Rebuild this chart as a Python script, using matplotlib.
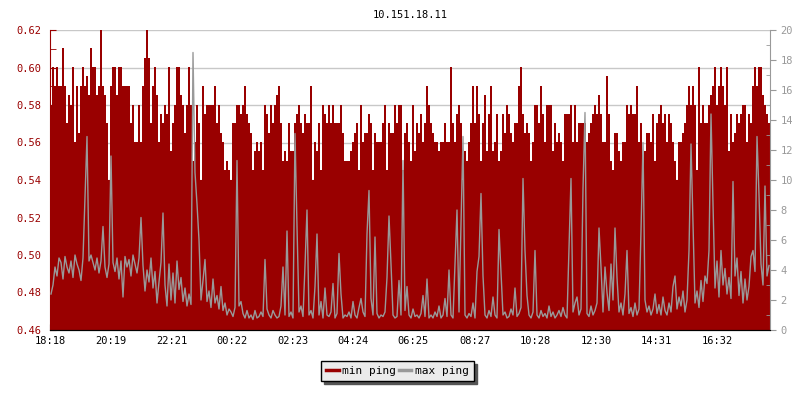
import matplotlib
matplotlib.use('Agg')
import matplotlib.pyplot as plt
import numpy as np

title = '10.151.18.11'
start_time = '18:18'
step_minutes = 4
tick_labels = ['18:18', '20:19', '22:21', '00:22', '02:23', '04:24',
               '06:25', '08:27', '10:28', '12:30', '14:31', '16:32']

# min ping in ms (left axis), one value per 4 minutes
min_ping = np.array([
    580, 600, 590, 600, 590, 590, 610, 590, 570, 585, 580, 600, 560, 590, 565, 590, 600, 590, 595, 585,
    610, 600, 600, 585, 590, 620, 590, 585, 570, 540, 590, 600, 600, 585, 600, 600, 590, 590, 590, 590,
    570, 580, 560, 560, 580, 560, 590, 605, 620, 605, 570, 590, 600, 585, 560, 575, 570, 580, 575, 600,
    555, 570, 580, 600, 600, 585, 580, 565, 580, 600, 580, 550, 560, 580, 570, 540, 590, 575, 580, 580,
    580, 580, 590, 570, 580, 565, 560, 545, 550, 545, 540, 570, 570, 580, 580, 575, 580, 590, 575, 570,
    565, 545, 555, 560, 555, 560, 545, 580, 575, 565, 580, 570, 580, 585, 590, 570, 550, 555, 550, 570,
    555, 555, 570, 575, 580, 570, 565, 575, 570, 570, 590, 540, 560, 555, 570, 545, 580, 575, 570, 580,
    570, 580, 570, 570, 570, 580, 565, 550, 550, 550, 555, 560, 565, 570, 545, 580, 560, 565, 565, 575,
    570, 545, 565, 560, 560, 560, 570, 580, 545, 570, 565, 565, 580, 570, 580, 580, 545, 565, 570, 560,
    550, 580, 555, 570, 565, 575, 560, 570, 590, 580, 570, 565, 560, 560, 555, 560, 560, 570, 560, 560,
    600, 570, 560, 575, 580, 570, 540, 555, 550, 560, 570, 590, 570, 590, 575, 550, 570, 585, 555, 575,
    590, 555, 560, 575, 550, 555, 575, 565, 580, 575, 565, 560, 570, 570, 590, 600, 575, 565, 570, 565,
    550, 560, 580, 580, 570, 590, 575, 560, 580, 580, 580, 555, 570, 560, 565, 560, 550, 575, 575, 575,
    580, 560, 580, 560, 570, 570, 570, 570, 560, 565, 570, 575, 580, 575, 585, 575, 560, 560, 595, 575,
    550, 545, 565, 565, 555, 550, 560, 560, 580, 575, 580, 575, 575, 590, 560, 570, 540, 555, 565, 565,
    560, 575, 550, 570, 575, 580, 570, 575, 560, 575, 570, 560, 550, 540, 560, 560, 565, 570, 580, 590,
    580, 590, 580, 545, 600, 570, 580, 570, 570, 580, 585, 590, 600, 580, 590, 600, 590, 580, 600, 555,
    575, 560, 565, 575, 570, 575, 580, 580, 560, 575, 570, 590, 600, 590, 600, 600, 585, 580, 575, 570,
]) / 1000.0

# max ping in ms (right axis), one value per 4 minutes
max_ping = np.array([
    2.4, 3.0, 4.2, 3.6, 4.8, 4.5, 3.4, 4.9, 4.2, 3.8, 4.6, 3.5, 5.0, 4.4, 4.0, 3.3, 4.8, 8.9, 12.9, 4.6,
    5.0, 4.5, 4.0, 4.8, 3.8, 4.6, 6.9, 4.2, 3.5, 4.4, 11.6, 4.5, 3.9, 4.8, 3.4, 4.6, 2.2, 4.9, 4.2, 4.7,
    3.6, 5.0, 4.4, 3.8, 4.8, 7.5, 4.3, 2.6, 4.0, 3.2, 4.8, 2.8, 3.9, 1.8, 3.2, 4.5, 7.8, 3.0, 1.6, 4.4,
    2.0, 3.8, 1.8, 4.6, 2.7, 3.5, 1.9, 2.8, 1.6, 2.4, 1.7, 18.5, 10.5, 8.4, 6.0, 2.0, 3.3, 4.7, 1.9, 2.6,
    1.5, 3.4, 1.8, 2.3, 1.4, 2.9, 1.3, 1.8, 1.0, 1.4, 1.2, 0.9, 1.5, 11.3, 1.6, 1.9, 1.1, 0.8, 1.3, 0.8,
    1.0, 0.7, 1.3, 0.8, 0.9, 1.2, 0.9, 4.7, 1.4, 1.0, 0.8, 1.3, 1.0, 0.8, 0.9, 1.6, 4.2, 1.0, 6.6, 0.9,
    1.2, 0.8, 13.1, 6.9, 1.2, 1.6, 0.9, 4.3, 8.0, 1.0, 1.3, 0.8, 2.9, 6.4, 1.0, 1.9, 0.8, 2.8, 1.0, 0.9,
    1.2, 3.1, 0.8, 1.1, 5.1, 2.4, 0.8, 1.0, 0.9, 1.2, 0.8, 1.9, 1.0, 0.8, 1.5, 2.1, 1.2, 0.9, 6.4, 9.3,
    2.1, 1.0, 6.2, 1.1, 0.8, 1.0, 0.9, 1.2, 3.5, 7.6, 4.4, 1.0, 0.8, 0.9, 3.3, 1.0, 11.3, 1.3, 2.9, 1.0,
    0.8, 1.4, 0.9, 1.0, 0.8, 1.1, 2.3, 0.9, 3.4, 0.8, 1.0, 0.8, 1.2, 0.9, 1.6, 0.8, 1.0, 2.1, 0.9, 4.0,
    1.0, 0.8, 4.4, 8.0, 1.2, 7.2, 12.9, 1.0, 0.8, 1.1, 0.9, 1.8, 0.8, 3.9, 4.9, 9.1, 3.6, 1.0, 0.8, 1.3,
    0.9, 2.2, 1.0, 0.8, 6.7, 3.9, 1.0, 1.2, 0.8, 0.9, 1.4, 1.0, 2.8, 0.9, 1.1, 1.5, 10.1, 5.3, 2.3, 1.0,
    0.8, 1.2, 5.3, 1.0, 0.8, 1.3, 0.9, 1.1, 0.8, 1.6, 0.9, 1.2, 0.8, 1.0, 1.3, 0.9, 1.5, 1.0, 0.8, 5.4,
    10.1, 1.2, 1.8, 2.2, 1.0, 1.4, 9.4, 14.5, 1.1, 0.9, 1.6, 1.0, 1.3, 1.8, 6.8, 4.2, 1.2, 4.2, 2.5, 1.3,
    4.4, 2.0, 6.8, 3.5, 1.2, 1.8, 1.0, 2.4, 5.3, 1.1, 1.5, 0.9, 1.8, 1.0, 1.4, 6.6, 12.5, 2.0, 1.2, 1.6,
    1.0, 1.4, 2.4, 1.1, 1.7, 1.0, 2.2, 1.3, 1.0, 1.8, 1.2, 2.9, 3.6, 1.4, 2.2, 1.6, 2.6, 1.2, 2.0, 5.3,
    12.4, 7.1, 1.8, 2.6, 1.5, 3.3, 1.9, 3.6, 3.1, 5.3, 14.4, 8.4, 2.8, 4.6, 2.2, 5.3, 3.0, 4.1, 2.4, 3.5,
    2.1, 9.9, 3.6, 4.8, 2.3, 3.9, 1.8, 3.4, 2.0, 2.9, 4.9, 5.3, 3.9, 12.9, 9.0, 4.4, 3.0, 9.6, 3.6, 4.3,
])

red = '#990000'
grey = '#999999'
plt.rcParams['font.family'] = 'DejaVu Sans Mono'
plt.rcParams['font.size'] = 7.5


def to_minutes(label):
    h, m = label.split(':')
    sh, sm = start_time.split(':')
    return (int(h) * 60 + int(m) - int(sh) * 60 - int(sm)) % 1440


# sample edges in minutes from the start
edges = np.arange(len(min_ping) + 1) * step_minutes
centers = edges[:-1] + step_minutes / 2

fig = plt.figure(figsize=(8, 4), dpi=100)
ax = fig.add_axes([0.0625, 0.175, 0.9, 0.75])
ax2 = ax.twinx()

ax.fill_between(edges, np.append(min_ping, min_ping[-1]), 0, step='post',
                color=red, linewidth=0, antialiased=False, label='min ping')
ax.set_ylim(0.46, 0.62)
ax.set_xlim(0, edges[-1])
ax.set_yticks(np.arange(0.46, 0.621, 0.02))
ax.set_yticks(np.arange(0.46, 0.621, 0.01), minor=True)
ax.set_yticklabels(['%.2f' % v for v in np.arange(0.46, 0.621, 0.02)])
ax.yaxis.grid(True, color='#c8c8c8', linewidth=1)
ax.set_axisbelow(True)
ax.tick_params(axis='y', which='both', direction='in', colors=red, labelcolor=red, length=4)
ax.tick_params(axis='y', which='major', pad=6)

ax.set_xticks([to_minutes(t) for t in tick_labels])
ax.set_xticklabels(tick_labels)
ax.tick_params(axis='x', direction='in', length=4, color='black', pad=4)

ax2.plot(centers, max_ping, color=grey, linewidth=1, label='max ping')
ax2.set_ylim(0, 20)
ax2.set_yticks(np.arange(0, 21, 2))
ax2.set_yticks(np.arange(0, 21, 1), minor=True)
ax2.tick_params(axis='y', which='major', direction='out', colors=grey, labelcolor=grey, length=4)
ax2.tick_params(axis='y', which='minor', direction='in', colors=grey, length=3)

for a in (ax, ax2):
    a.spines['top'].set_visible(False)
ax.spines['left'].set_color(red)
ax.spines['right'].set_visible(False)
ax2.spines['left'].set_visible(False)
ax2.spines['right'].set_color(grey)
ax2.spines['bottom'].set_color('black')

ax.set_title(title, fontsize=7.5, pad=9)

h1, l1 = ax.get_legend_handles_labels()
h2, l2 = ax2.get_legend_handles_labels()
handles = [plt.Line2D([], [], color=red, linewidth=2.5), plt.Line2D([], [], color=grey, linewidth=2.5)]
leg = fig.legend(handles, l1 + l2, loc='center', bbox_to_anchor=(0.497, 0.072), ncol=2,
                 frameon=True, fancybox=False, shadow={'color': '#555555', 'alpha': 1},
                 handlelength=1.1, handletextpad=0.3, columnspacing=0.3,
                 borderpad=0.45, fontsize=8)
leg.get_frame().set_facecolor('#ebebeb')
leg.get_frame().set_edgecolor('black')
leg.get_frame().set_linewidth(1)

fig.savefig('out.png', dpi=100)
